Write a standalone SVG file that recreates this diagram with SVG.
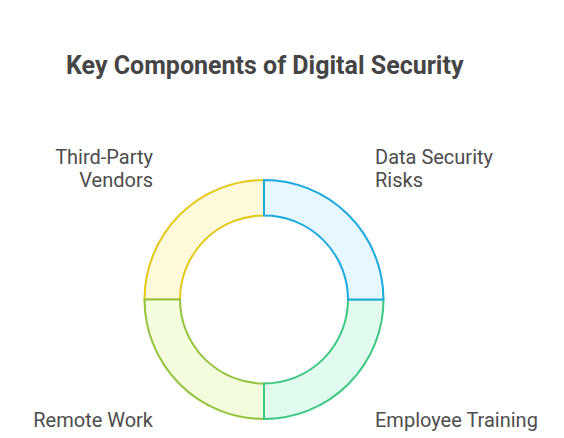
<svg xmlns="http://www.w3.org/2000/svg" width="564" height="438" viewBox="0 0 564 438">
<style>
text{font-family:Roboto,"Liberation Sans",sans-serif;fill:#4d4d4d}
.title{font-size:25px;font-weight:bold;fill:#454545}
.lbl{font-size:20px}
.seg{stroke-width:2}
</style>
<rect width="564" height="438" fill="#ffffff"/>
<text class="title" x="66" y="74">Key Components of Digital Security</text>
<g id="third-party-vendors">
<path class="seg" fill="#FFF9DB" stroke="#E3C81A" d="M144.5 299.5 A119.5 119.5 0 0 1 264 180 L264 215.5 A84 84 0 0 0 180 299.5 Z"/>
<text class="lbl" x="153" y="164" text-anchor="end">Third-Party</text>
<text class="lbl" x="153" y="187" text-anchor="end">Vendors</text>
</g>
<g id="remote-work">
<path class="seg" fill="#F3FDDD" stroke="#95C23D" d="M264 419 A119.5 119.5 0 0 1 144.5 299.5 L180 299.5 A84 84 0 0 0 264 383.5 Z"/>
<text class="lbl" x="153" y="427" text-anchor="end">Remote Work</text>
</g>
<g id="employee-training">
<path class="seg" fill="#E1FBEF" stroke="#3EC883" d="M383.5 299.5 A119.5 119.5 0 0 1 264 419 L264 383.5 A84 84 0 0 0 348 299.5 Z"/>
<text class="lbl" x="375" y="427">Employee Training</text>
</g>
<g id="data-security-risks">
<path class="seg" fill="#E6F7FE" stroke="#1BA9DE" d="M264 180 A119.5 119.5 0 0 1 383.5 299.5 L348 299.5 A84 84 0 0 0 264 215.5 Z"/>
<text class="lbl" x="375" y="164">Data Security</text>
<text class="lbl" x="375" y="187">Risks</text>
</g>
<g id="connectors"></g>
</svg>
